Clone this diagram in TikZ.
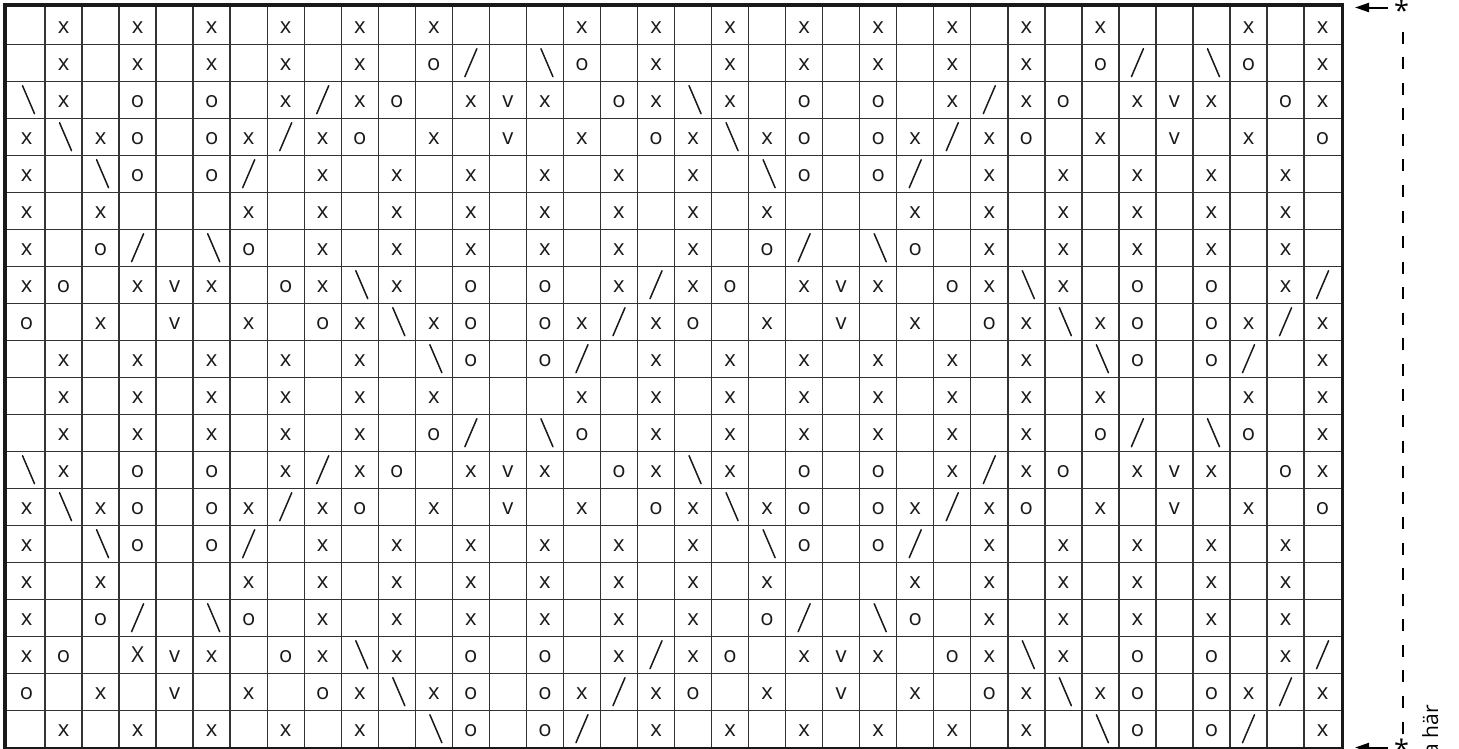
\documentclass[tikz,border=0pt]{standalone}
\usepackage{fontspec}
\setmainfont{Open Sans}
\usetikzlibrary{arrows.meta}
\newcounter{chartcol}
\def\chartrowidx{0}
\tikzset{
  sym/.style={anchor=base,inner sep=0pt,text=black!90,font=\fontsize{22}{26}\selectfont},
  slashline/.style={line width=1.5pt,black!90,line cap=round},
  gridline/.style={line width=1.4pt,black!80},
  gridborder/.style={line width=3.6pt,black!90},
  leftarrow/.style={line width=2pt,-{Triangle[length=14pt,width=9pt]}},
  repeatline/.style={line width=2.6pt,dash pattern=on 12pt off 13.55pt},
  starmark/.style={anchor=base,inner sep=0pt,font=\fontsize{27}{30}\selectfont},
}
\def\chartrow#1#2{\def\chartrowidx{#1}\setcounter{chartcol}{0}\chartparse#2\relax}
\def\chartparse#1{\ifx#1\relax\else\chartcell#1\stepcounter{chartcol}\expandafter\chartparse\fi}
\def\chartcell#1{%
  \pgfmathsetmacro\cx{8+37.03*(\number\value{chartcol}+0.5)}%
  \pgfmathsetmacro\cyb{7.2+37*\chartrowidx+26.5}%
  \pgfmathsetmacro\cyc{7.2+37*\chartrowidx+18.5}%
  \edef\cellname{r\chartrowidx c\number\value{chartcol}}%
  \ifx#1x\node[sym] (\cellname) at (\cx,\cyb) {x};\fi
  \ifx#1X\node[sym] (\cellname) at (\cx,\cyb) {X};\fi
  \ifx#1o\node[sym] (\cellname) at (\cx,\cyb) {o};\fi
  \ifx#1v\node[sym] (\cellname) at (\cx,\cyb) {v};\fi
  \ifx#1/\draw[slashline] (\cx-6,\cyc+14) -- (\cx+6,\cyc-14);\fi
  \ifx#1b\draw[slashline] (\cx-4,\cyc-14) -- (\cx+8,\cyc+14);\fi
}
\begin{document}
\begin{tikzpicture}[x=1pt,y=-1pt]
\useasboundingbox (0,0) rectangle (1459,748);
\fill[white] (0,0) rectangle (1459,748);
% grid
\foreach \i in {1,...,35} \draw[gridline] ({8+37.03*\i},5) -- ({8+37.03*\i},748);
\foreach \j in {1,...,19} \draw[gridline] (5,{7.2+37*\j}) -- (1342.5,{7.2+37*\j});
\draw[gridborder] (5,5) rectangle (1342.5,749);
% symbols
\chartrow{0}{.x.x.x.x.x.x...x.x.x.x.x.x.x.x...x.x}
\chartrow{1}{.x.x.x.x.x.o/.bo.x.x.x.x.x.x.o/.bo.x}
\chartrow{2}{bx.o.o.x/xo.xvx.oxbx.o.o.x/xo.xvx.ox}
\chartrow{3}{xbxo.ox/xo.x.v.x.oxbxo.ox/xo.x.v.x.o}
\chartrow{4}{x.bo.o/.x.x.x.x.x.x.bo.o/.x.x.x.x.x.}
\chartrow{5}{x.x...x.x.x.x.x.x.x.x...x.x.x.x.x.x.}
\chartrow{6}{x.o/.bo.x.x.x.x.x.x.o/.bo.x.x.x.x.x.}
\chartrow{7}{xo.xvx.oxbx.o.o.x/xo.xvx.oxbx.o.o.x/}
\chartrow{8}{o.x.v.x.oxbxo.ox/xo.x.v.x.oxbxo.ox/x}
\chartrow{9}{.x.x.x.x.x.bo.o/.x.x.x.x.x.x.bo.o/.x}
\chartrow{10}{.x.x.x.x.x.x...x.x.x.x.x.x.x.x...x.x}
\chartrow{11}{.x.x.x.x.x.o/.bo.x.x.x.x.x.x.o/.bo.x}
\chartrow{12}{bx.o.o.x/xo.xvx.oxbx.o.o.x/xo.xvx.ox}
\chartrow{13}{xbxo.ox/xo.x.v.x.oxbxo.ox/xo.x.v.x.o}
\chartrow{14}{x.bo.o/.x.x.x.x.x.x.bo.o/.x.x.x.x.x.}
\chartrow{15}{x.x...x.x.x.x.x.x.x.x...x.x.x.x.x.x.}
\chartrow{16}{x.o/.bo.x.x.x.x.x.x.o/.bo.x.x.x.x.x.}
\chartrow{17}{xo.Xvx.oxbx.o.o.x/xo.xvx.oxbx.o.o.x/}
\chartrow{18}{o.x.v.x.oxbxo.ox/xo.x.v.x.oxbxo.ox/x}
\chartrow{19}{.x.x.x.x.x.bo.o/.x.x.x.x.x.x.bo.o/.x}
% repeat markers
\coordinate (topTail) at (1388,7.5);
\coordinate (topHead) at (1355,7.5);
\draw[leftarrow] (topTail) -- (topHead);
\node[starmark] (topStar) at (1401.5,20) {*};
\coordinate (dashTop) at (1403,31.7);
\coordinate (dashBot) at (1403,734);
\draw[repeatline] (dashTop) -- (dashBot);
\coordinate (botTail) at (1388,747.5);
\coordinate (botHead) at (1355,747.5);
\draw[leftarrow] (botTail) -- (botHead);
\node[starmark] (botStar) at (1401.5,759) {*};
\node[rotate=90,anchor=base east,inner sep=0pt,font=\fontsize{21}{25}\selectfont] (startLabel) at (1438,705) {Börja här};
\end{tikzpicture}
\end{document}
